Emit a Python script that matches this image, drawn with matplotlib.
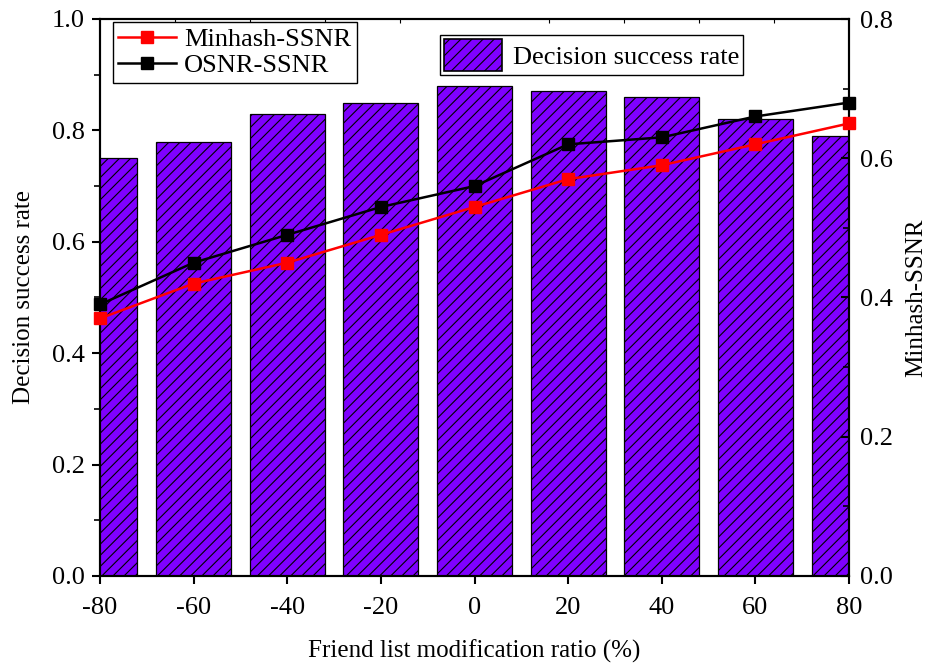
import matplotlib
matplotlib.use("Agg")
import matplotlib.pyplot as plt
from matplotlib.ticker import MultipleLocator, FixedLocator
from matplotlib.patches import Patch

plt.rcParams['font.family'] = ['Liberation Serif', 'DejaVu Serif']
plt.rcParams['hatch.linewidth'] = 0.8

ratios = [-80, -60, -40, -20, 0, 20, 40, 60, 80]
decision_rate = [0.75, 0.78, 0.83, 0.85, 0.88, 0.87, 0.86, 0.82, 0.79]
minhash_ssnr = [0.37, 0.42, 0.45, 0.49, 0.53, 0.57, 0.59, 0.62, 0.65]
osnr_ssnr = [0.39, 0.45, 0.49, 0.53, 0.56, 0.62, 0.63, 0.66, 0.68]
xticks = [-80, -60, -40, -20, 0, 20, 40, 60, 80]

fig = plt.figure(figsize=(9.3, 6.67), dpi=100)
ax = fig.add_axes([100/930, 1-576/667, (849-100)/930, (576-19)/667])

bars = ax.bar(ratios, decision_rate, width=16, color='#7F00FF', edgecolor='black',
              linewidth=0.9, hatch='///', zorder=2)
ax.set_xlim(-80, 80)
ax.set_ylim(0, 1.0)
ax.set_xticks(xticks)
ax.set_xticklabels([str(v) for v in xticks])
ax.yaxis.set_major_locator(MultipleLocator(0.2))
ax.yaxis.set_minor_locator(MultipleLocator(0.1))
ax.set_yticklabels([f"{v:.1f}" for v in ax.get_yticks()])
ax.tick_params(axis='both', which='major', labelsize=19, direction='out', length=6, width=1.5)
ax.tick_params(axis='y', which='major', pad=5)
ax.tick_params(axis='y', which='minor', direction='out', length=4, width=1.2)
ax.tick_params(axis='x', which='major', pad=9)
ax.xaxis.set_minor_locator(FixedLocator([-80 + 16*k for k in range(11)]))
ax.tick_params(axis='x', which='minor', top=True, bottom=False, direction='in', length=3, width=0.8)
ax.set_xlabel('Friend list modification ratio (%)', fontsize=18, labelpad=15)
ax.set_ylabel('Decision success rate', fontsize=18, labelpad=12)
for s in ax.spines.values():
    s.set_linewidth(1.5)

ax2 = ax.twinx()
ax2.plot(ratios, minhash_ssnr, color='red', marker='s', markersize=8, linewidth=1.8,
         label='Minhash-SSNR', clip_on=False, zorder=5)
ax2.plot(ratios, osnr_ssnr, color='black', marker='s', markersize=8, linewidth=1.8,
         label='OSNR-SSNR', clip_on=False, zorder=5)
ax2.set_ylim(0, 0.8)
ax2.yaxis.set_major_locator(MultipleLocator(0.2))
ax2.yaxis.set_minor_locator(MultipleLocator(0.1))
ax2.set_yticklabels([f"{v:.1f}" for v in ax2.get_yticks()])
ax2.tick_params(axis='y', which='major', labelsize=19, direction='in', length=6, width=1.5, pad=8)
ax2.tick_params(axis='y', which='minor', direction='in', length=4, width=1.2)
ax2.set_ylabel('Minhash-SSNR', fontsize=18, labelpad=9)
for s in ax2.spines.values():
    s.set_linewidth(1.5)

leg1 = ax2.legend(loc='upper left', bbox_to_anchor=(13/749, 1 - 3/557), fontsize=19,
                  frameon=True, fancybox=False, edgecolor='black', framealpha=1,
                  handlelength=2.2, borderpad=0.2, labelspacing=0.12, handletextpad=0.3,
                  borderaxespad=0)
leg1.get_frame().set_linewidth(1.0)
ax2.add_artist(leg1)
bar_handle = Patch(facecolor='#7F00FF', edgecolor='black', hatch='///', linewidth=1.2,
                   label='Decision success rate')
leg2 = ax2.legend(handles=[bar_handle], loc='upper left',
                  bbox_to_anchor=(340/749, 1 - 16/557), fontsize=19, frameon=True,
                  fancybox=False, edgecolor='black', framealpha=1, handlelength=2.2,
                  handleheight=1.5, borderpad=0.15, handletextpad=0.4, borderaxespad=0)
leg2.get_frame().set_linewidth(1.0)

fig.savefig('out.png', dpi=100)
